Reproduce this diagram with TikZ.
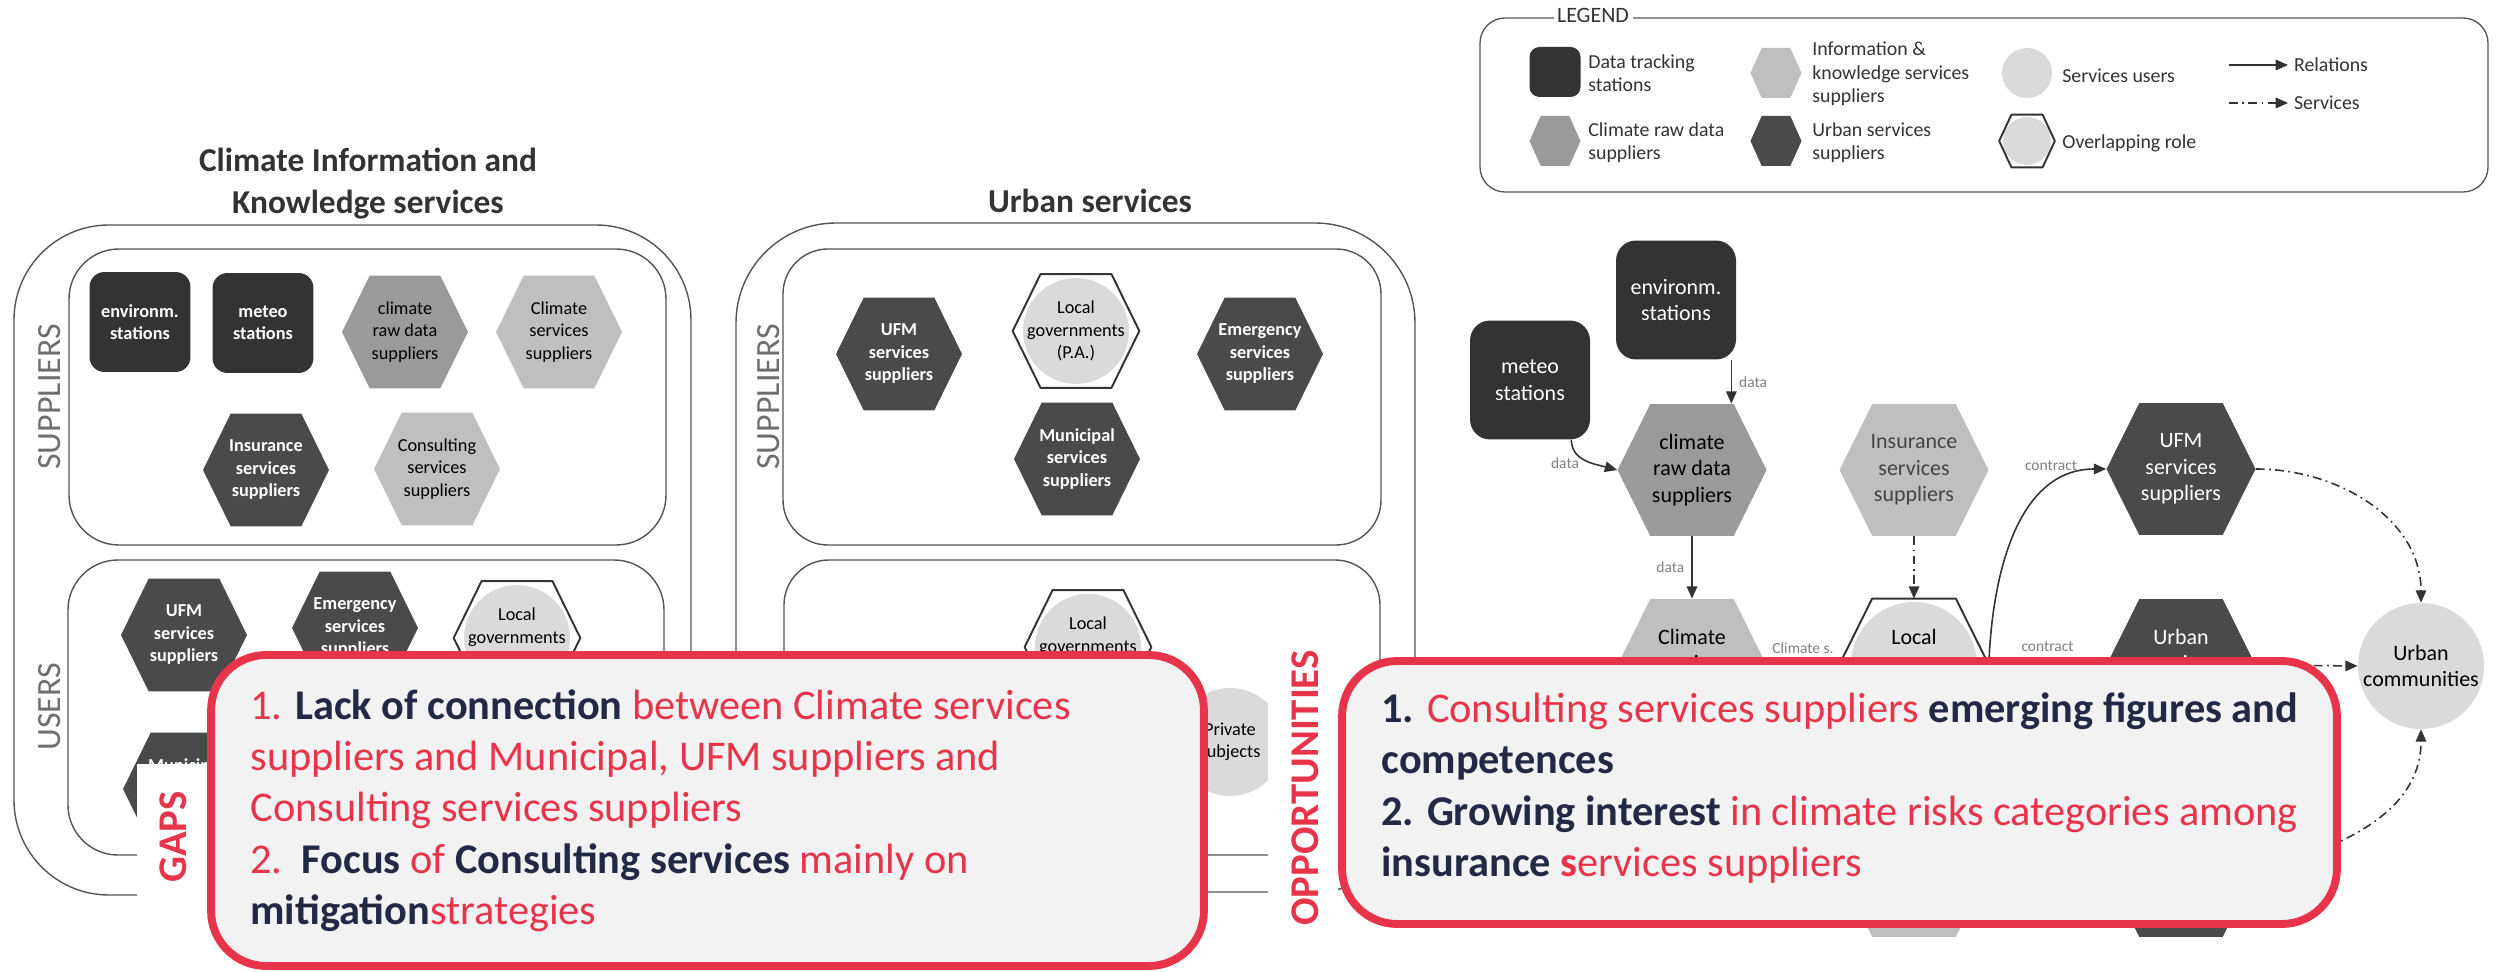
\documentclass[tikz,border=0pt]{standalone}
\usepackage{fontspec}
\setmainfont{Carlito}
\usetikzlibrary{calc, arrows.meta}

\definecolor{statcol}{HTML}{333333}
\definecolor{urbcol}{HTML}{4A4A4A}
\definecolor{rawcol}{HTML}{9A9A9A}
\definecolor{infocol}{HTML}{BFBFBF}
\definecolor{usercol}{HTML}{DADADA}
\definecolor{ovcol}{HTML}{333333}
\definecolor{linegray}{HTML}{555555}
\definecolor{sidegray}{HTML}{6E6E6E}
\definecolor{ttlgray}{HTML}{333333}
\definecolor{lblgray}{HTML}{808080}
\definecolor{arrowcol}{HTML}{333333}
\definecolor{insgray}{HTML}{444444}
\definecolor{gapred}{HTML}{E8344A}
\definecolor{boxgray}{HTML}{F2F2F2}
\definecolor{txtnavy}{HTML}{232844}

\newcommand{\hexpath}[1]{(#1.west) -- ($(#1.north west)!.22!(#1.north east)$) -- ($(#1.north west)!.78!(#1.north east)$) -- (#1.east) -- ($(#1.south west)!.78!(#1.south east)$) -- ($(#1.south west)!.22!(#1.south east)$) -- cycle}
\newcommand{\pnlfont}{\fontsize{10.4}{12.8}\selectfont}
\newcommand{\dgmfont}{\fontsize{12.5}{15.1}\selectfont}
\newcommand{\lgdfont}{\fontsize{11.3}{13.3}\selectfont}
\newcommand{\edgfont}{\fontsize{8.8}{10.5}\selectfont}
\newcommand{\boxfont}{\fontsize{24.1}{29.2}\selectfont}
\newcommand{\ttlfont}{\fontsize{19}{23.8}\selectfont\bfseries}
\newcommand{\sidfont}{\fontsize{19.3}{22}\selectfont}
\newcommand{\tagfont}{\fontsize{23.2}{26}\selectfont\bfseries}
\newcommand{\navb}[1]{\textcolor{txtnavy}{\textbf{#1}}}

\tikzset{
  panel/.style={draw=linegray, line width=0.8pt},
  ttl/.style={text=ttlgray, font=\ttlfont, align=center},
  sidetag/.style={text=sidegray, font=\sidfont, rotate=90},
  stat/.style={rectangle, rounded corners=#1, fill=statcol, text=white, align=center, inner sep=0pt},
  hexa/.style={rectangle, inner sep=0pt, align=center, path picture={\fill[#1] \hexpath{path picture bounding box};}},
  overlap/.style={rectangle, inner sep=0pt, align=center, path picture={\fill[usercol] (path picture bounding box.center) circle (#1);}},
  usernode/.style={circle, fill=usercol, inner sep=0pt, align=center},
  ovline/.style={draw=ovcol, line width=1.1pt, line join=round},
  smallhex/.style={minimum width=2.52cm, minimum height=2.26cm, font=\pnlfont},
  bighex/.style={minimum width=2.98cm, minimum height=2.64cm, font=\dgmfont},
  leghex/.style={minimum width=1.02cm, minimum height=1cm},
  darktxt/.style={text=white, font=\pnlfont\bfseries},
  rel/.style={draw=arrowcol, line width=0.9pt, -{Triangle[length=7pt,width=6pt]}},
  srv/.style={rel, dash pattern=on 5pt off 2.5pt on 1pt off 2.5pt},
  lbl/.style={font=\edgfont, text=lblgray, inner sep=1pt},
  redbox/.style={draw=gapred, fill=boxgray, line width=4.5pt, rounded corners=1.1cm},
  redtag/.style={text=gapred, font=\tagfont, rotate=90},
  legtxt/.style={font=\lgdfont, text=ttlgray, align=left, anchor=west, inner sep=0pt}
}

\begin{document}
\begin{tikzpicture}[x=0.02cm,y=0.02cm]
\useasboundingbox (0,0) rectangle (2496,-972);
\fill[white] (0,0) rectangle (2496,-972);

% climate information and knowledge services
\node[ttl] (ttlclim) at (368,-184) {Climate Information and\\Knowledge services};
\draw[panel, rounded corners=1.9cm] (14,-225) rectangle (691,-895);
\draw[panel, rounded corners=1cm] (69,-249) rectangle (666,-545);
\draw[panel, rounded corners=1cm] (68,-560) rectangle (664,-855);
\node[sidetag] (supl) at (50,-397) {SUPPLIERS};
\node[sidetag] (usrl) at (50,-707) {USERS};
\node[stat=0.3cm, minimum width=2.02cm, minimum height=2cm, darktxt] (envl) at (140,-322) {environm.\\stations};
\node[stat=0.3cm, minimum width=2.02cm, minimum height=2cm, darktxt] (metl) at (263,-323) {meteo\\stations};
\node[hexa=rawcol, smallhex] (rawl) at (405,-332) {climate\\raw data\\suppliers};
\node[hexa=infocol, smallhex] (clsl) at (559,-332) {Climate\\services\\suppliers};
\node[hexa=urbcol, smallhex, darktxt] (insl) at (266,-470) {Insurance\\services\\suppliers};
\node[hexa=infocol, smallhex] (consl) at (437,-469) {Consulting\\services\\suppliers};
\node[hexa=urbcol, smallhex, darktxt] (ufml) at (184,-635) {UFM\\services\\suppliers};
\node[hexa=urbcol, smallhex, darktxt] (emel) at (355,-628) {Emergency\\services\\suppliers};
\node[overlap=1.06cm, smallhex] (locl) at (517,-638) {Local\\governments\\(P.A.)};
\draw[ovline] \hexpath{locl};
\node[hexa=urbcol, smallhex, darktxt] (munl) at (186,-789) {Municipal\\services\\suppliers};

% urban services
\node[ttl, anchor=base] (ttlurb) at (1090,-213) {Urban services};
\draw[panel, rounded corners=2cm] (736,-223) rectangle (1415,-892);
\draw[panel, rounded corners=0.9cm] (783,-249) rectangle (1381,-545);
\draw[panel, rounded corners=0.9cm] (784,-560) rectangle (1380,-855);
\node[sidetag] (supm) at (769,-397) {SUPPLIERS};
\node[hexa=urbcol, smallhex, darktxt] (ufmm) at (899,-354) {UFM\\services\\suppliers};
\node[overlap=1.06cm, smallhex] (locm) at (1076,-331) {Local\\governments\\(P.A.)};
\draw[ovline] \hexpath{locm};
\node[hexa=urbcol, smallhex, darktxt] (emem) at (1260,-354) {Emergency\\services\\suppliers};
\node[hexa=urbcol, smallhex, darktxt] (munm) at (1077,-459) {Municipal\\services\\suppliers};
\node[overlap=1.06cm, smallhex] (locmu) at (1088,-647) {Local\\governments\\(P.A.)};
\draw[ovline] \hexpath{locmu};
\node[usernode, minimum size=2.16cm, font=\pnlfont] (privm) at (1230,-742) {Private\\subjects};

% relations diagram
\node[stat=0.4cm, minimum width=2.4cm, minimum height=2.38cm, font=\dgmfont] (envr) at (1676,-300) {environm.\\stations};
\node[stat=0.4cm, minimum width=2.4cm, minimum height=2.38cm, font=\dgmfont] (metr) at (1530,-380) {meteo\\stations};
\node[hexa=rawcol, bighex] (rawr) at (1692,-470) {climate\\raw data\\suppliers};
\node[hexa=infocol, bighex, text=insgray] (insr) at (1914,-470) {Insurance\\services\\suppliers};
\node[hexa=urbcol, bighex, text=white] (ufmr) at (2181,-469) {UFM\\services\\suppliers};
\node[hexa=infocol, bighex] (climr) at (1692,-665) {Climate\\services\\suppliers};
\node[overlap=1.26cm, bighex] (locr) at (1914,-665) {Local\\governments\\(P.A.)};
\draw[ovline] \hexpath{locr};
\node[hexa=urbcol, bighex, text=white] (urbr) at (2181,-665) {Urban\\services\\suppliers};
\node[hexa=infocol, bighex] (consr) at (1914,-871) {Consulting\\services\\suppliers};
\node[hexa=urbcol, bighex, text=white] (munr) at (2181,-871) {Municipal\\services\\suppliers};
\node[usernode, minimum size=2.52cm, font=\dgmfont] (comr) at (2421,-666) {Urban\\communities};

\draw[rel] ([xshift=-0.1cm]envr.south east) -- ([xshift=-0.1cm]envr.south east |- rawr.north) node[lbl, midway, right=3pt] (dat1) {data};
\draw[rel] ([xshift=-0.38cm]metr.south east) to[out=-90, in=165] (rawr.west);
\node[lbl] (dat2) at (1565,-463) {data};
\draw[rel] (rawr.south) -- (climr.north) node[lbl, midway, left=3pt] (dat3) {data};
\draw[srv] (insr.south) -- (locr.north);
\draw[srv] (climr.east) -- (locr.west) node[lbl, midway, above=5pt] (cls) {Climate s.};
\draw[rel] (locr.east) to[out=88, in=180] (ufmr.west);
\node[lbl] (con1) at (2051,-466) {contract};
\draw[rel] (locr.east) -- (urbr.west) node[lbl, midway, above=6pt] (con2) {contract};
\draw[srv] (ufmr.east) to[out=0, in=90] (comr.north);
\draw[srv] (urbr.east) -- (comr.west);
\draw[srv] (munr.east) to[out=15, in=-90] (comr.south);

% gaps
\fill[white] (137,-764) rectangle (207,-972);
\node[redtag] (gaps) at (173,-837) {GAPS};
\node[redbox, minimum width=19.86cm, minimum height=6.22cm] (gapbox) at (707.5,-810.5) {};
\node[anchor=west, align=left, font=\boxfont, text=gapred, inner sep=0pt] (gaptxt) at ([xshift=0.86cm]gapbox.west) {1. \navb{Lack of connection} between Climate services\\
suppliers and Municipal, UFM suppliers and\\
Consulting services suppliers\\
2.\ \ \navb{Focus} of \navb{Consulting services} mainly on\\
\navb{mitigation}strategies};

% opportunities
\fill[white] (1268,-640) rectangle (1338,-972);
\node[redtag] (opps) at (1305,-788) {OPPORTUNITIES};
\node[redbox, minimum width=19.9cm, minimum height=5.26cm] (oppbox) at (1839.5,-792.5) {};
\node[anchor=west, align=left, font=\boxfont, text=gapred, inner sep=0pt] (opptxt) at ([xshift=0.86cm, yshift=0.09cm]oppbox.west) {\navb{1.} Consulting services suppliers \navb{emerging figures and}\\
\navb{competences}\\
\navb{2. Growing interest} in climate risks categories among\\
\navb{insurance} \textbf{s}ervices suppliers};

% legend
\draw[draw=linegray, line width=0.75pt, rounded corners=0.5cm] (1480,-18) rectangle (2488,-192);
\node[fill=white, font=\fontsize{12.5}{14}\selectfont, text=ttlgray, inner sep=2pt] (legt) at (1593,-15) {LEGEND};
\node[stat=0.2cm, minimum width=1.02cm, minimum height=1cm] (lgsta) at (1555,-72) {};
\node[legtxt] (lgstat) at (1588,-73) {Data tracking\\stations};
\node[hexa=infocol, leghex] (lginf) at (1776,-73) {};
\node[legtxt] (lginft) at (1812,-74) {Information \&\\knowledge services\\suppliers};
\node[usernode, minimum size=1cm] (lgusr) at (2027,-73) {};
\node[legtxt] (lgusrt) at (2062,-76) {Services users};
\coordinate (lgr1) at (2229,-65);
\coordinate (lgr2) at (2288,-65);
\coordinate (lgs1) at (2229,-103);
\coordinate (lgs2) at (2288,-103);
\draw[rel] (lgr1) -- (lgr2) node[legtxt, xshift=3pt] (lgrelt) {Relations};
\draw[srv] (lgs1) -- (lgs2) node[legtxt, xshift=3pt] (lgsrvt) {Services};
\node[hexa=rawcol, leghex] (lgraw) at (1555,-141) {};
\node[legtxt] (lgrawt) at (1588,-143) {Climate raw data\\suppliers};
\node[hexa=urbcol, leghex] (lgurb) at (1776,-141) {};
\node[legtxt] (lgurbt) at (1812,-143) {Urban services\\suppliers};
\node[overlap=0.48cm, leghex, minimum width=1.1cm, minimum height=1.04cm] (lgovl) at (2027,-141) {};
\draw[ovline] \hexpath{lgovl};
\node[legtxt] (lgovlt) at (2062,-143) {Overlapping role};
\end{tikzpicture}
\end{document}
